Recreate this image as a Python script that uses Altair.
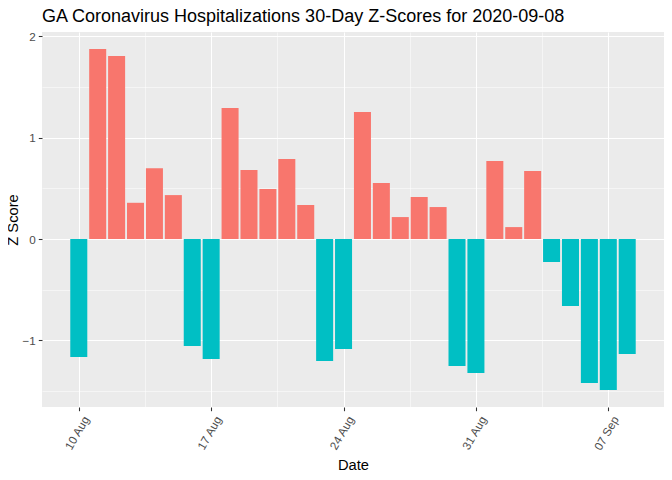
import altair as alt
import pandas as pd

dates = [
    "2020-08-10", "2020-08-11", "2020-08-12", "2020-08-13", "2020-08-14",
    "2020-08-15", "2020-08-16", "2020-08-17", "2020-08-18", "2020-08-19",
    "2020-08-20", "2020-08-21", "2020-08-22", "2020-08-23", "2020-08-24",
    "2020-08-25", "2020-08-26", "2020-08-27", "2020-08-28", "2020-08-29",
    "2020-08-30", "2020-08-31", "2020-09-01", "2020-09-02", "2020-09-03",
    "2020-09-04", "2020-09-05", "2020-09-06", "2020-09-07", "2020-09-08",
]
z_scores = [
    -1.165, 1.876, 1.806, 0.358, 0.700,
    0.434, -1.056, -1.185, 1.293, 0.681,
    0.494, 0.790, 0.336, -1.204, -1.086,
    1.254, 0.553, 0.217, 0.415, 0.316,
    -1.254, -1.323, 0.770, 0.118, 0.671,
    -0.227, -0.661, -1.421, -1.490, -1.135,
]

major_x = [alt.DateTime(year=2020, month=m, date=d) for m, d in [(8, 10), (8, 17), (8, 24), (8, 31), (9, 7)]]
minor_x = [alt.DateTime(year=2020, month=m, date=d, hours=12) for m, d in [(8, 13), (8, 20), (8, 27), (9, 3)]]
major_y = [-1, 0, 1, 2]
minor_y = [-1.5, -0.5, 0.5, 1.5]

df = pd.DataFrame({"date": [d + "T00:00:00" for d in dates], "z": z_scores})

FONT = "Liberation Sans"
x_dom = [alt.DateTime(year=2020, month=8, date=8, hours=1, minutes=19),
         alt.DateTime(year=2020, month=9, date=9, hours=22, minutes=41)]
y_dom = [-1.658, 2.044]

base = alt.Chart(df).transform_calculate(
    start="time(toDate(datum.date)) - 0.45*86400000",
    end="time(toDate(datum.date)) + 0.45*86400000",
    sign="datum.z > 0 ? 'pos' : 'neg'",
)

minor = base.mark_rect(opacity=0).encode(
    x=alt.X("start:T", scale=alt.Scale(domain=x_dom),
            axis=alt.Axis(orient="top", values=minor_x, grid=True, gridColor="white",
                          gridWidth=0.53, labels=False, ticks=False, domain=False, title=None)),
    x2="end:T",
    y=alt.Y("z:Q", scale=alt.Scale(domain=y_dom, nice=False, zero=False),
            axis=alt.Axis(orient="right", values=minor_y, grid=True, gridColor="white",
                          gridWidth=0.53, labels=False, ticks=False, domain=False, title=None)),
    y2=alt.datum(0),
)

bars = base.mark_rect().encode(
    x=alt.X("start:T", scale=alt.Scale(domain=x_dom),
            axis=alt.Axis(orient="bottom", values=major_x, format="%d %b", grid=True,
                          gridColor="white", gridWidth=1.07, domain=False,
                          ticks=True, tickSize=3.7, tickColor="#333333", tickWidth=1.07,
                          labelAngle=-60, labelAlign="right", labelBaseline="middle",
                          labelFont=FONT, labelFontSize=11.7, labelColor="#4D4D4D",
                          labelPadding=6, labelOffset=7,
                          title="Date", titleFont=FONT, titleFontSize=14.7,
                          titleFontWeight="normal", titleColor="black", titlePadding=5)),
    x2="end:T",
    y=alt.Y("z:Q", scale=alt.Scale(domain=y_dom, nice=False, zero=False),
            axis=alt.Axis(orient="left", values=major_y, grid=True, gridColor="white",
                          gridWidth=1.07, domain=False,
                          ticks=True, tickSize=3.7, tickColor="#333333", tickWidth=1.07,
                          labelFont=FONT, labelFontSize=11.7, labelColor="#4D4D4D",
                          labelPadding=3,
                          title="Z Score", titleFont=FONT, titleFontSize=14.7,
                          titleFontWeight="normal", titleColor="black", titlePadding=1.5)),
    y2=alt.datum(0),
    color=alt.Color("sign:N", scale=alt.Scale(domain=["pos", "neg"], range=["#F8766D", "#00BFC4"]),
                    legend=None),
)

chart = alt.layer(minor, bars).resolve_axis(x="independent", y="independent").properties(
    width=622, height=375,
    padding={"left": 34, "top": 24, "right": 0, "bottom": 70},
    autosize=alt.AutoSizeParams(type="none"),
    title=alt.TitleParams(
        "GA Coronavirus Hospitalizations 30-Day Z-Scores for 2020-09-08",
        anchor="start", frame="group", font=FONT, fontSize=18,
        fontWeight="normal", color="black", offset=5,
    ),
).configure_view(fill="#EBEBEB", stroke=None)

chart.save("out.html", embed_options={"renderer": "svg", "actions": False})
